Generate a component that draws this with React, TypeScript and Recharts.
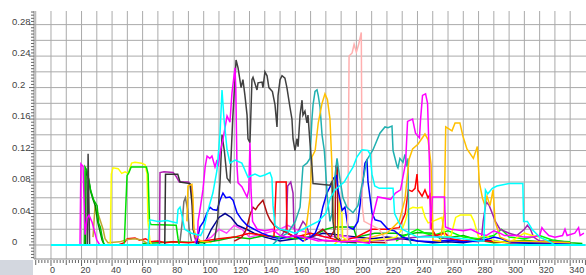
import { LineChart, Line, XAxis, YAxis, CartesianGrid } from "recharts";

type Pt = [number, number];

// tick labels
const xLabels = [0, 20, 40, 60, 80, 100, 120, 140, 160, 180, 200, 220, 240, 260, 280, 300, 320, 340];
const yLabels = [0, 0.04, 0.08, 0.12, 0.16, 0.2, 0.24, 0.28];

// series values, [x, y]
const magentaEarly: Pt[] = [[19, 0], [19.6, 0.103], [21, 0.1], [21.6, 0.06], [22.3, 0.013], [23.6, 0.034], [24.9, 0.038], [26.9, 0.029], [28.8, 0.015], [30, 0.006], [32, 0]];
const greenEarly: Pt[] = [[21.8, 0], [22.3, 0.099], [23.5, 0.095], [24.8, 0.082], [25.9, 0.07], [28, 0.057], [30.2, 0.05], [31.2, 0.028], [32.3, 0.023], [33.4, 0.011], [34.5, 0.002], [35, 0]];
const darkGreenEarly: Pt[] = [[22.6, 0], [23, 0.095], [24.5, 0.085], [26, 0.068], [27.5, 0.058], [29, 0.05], [30.5, 0.03], [32, 0.018], [33.5, 0.006], [35, 0]];
const grayEarly: Pt[] = [[23.8, 0], [24.3, 0.116], [25.3, 0]];
const oliveEarly: Pt[] = [[27.5, 0.01], [28.8, 0.048], [30.8, 0.04], [32.1, 0.032], [34.1, 0.02], [35.4, 0.008], [37.3, 0.003], [45, 0.004], [50, 0.007], [55, 0.008], [60, 0.006], [63, 0.002], [65, 0]];
const yellowBlock: Pt[] = [[38.8, 0], [39.5, 0.09], [40.6, 0.098], [44, 0.097], [46.3, 0.091], [48.5, 0.093], [50.6, 0.091], [52.8, 0.104], [55, 0.105], [59.4, 0.104], [61.6, 0.102], [62.9, 0.09], [63.5, 0.03], [64.8, 0.005], [66, 0]];
const limeBlock: Pt[] = [[48, 0.002], [49.2, 0.06], [49.8, 0.088], [51, 0.092], [52.5, 0.099], [62.5, 0.099], [63.6, 0.09], [64.5, 0.03], [65.5, 0.026], [82, 0.025], [83.2, 0.008], [84, 0]];
const redSeries: Pt[] = [[44, 0], [48, 0.003], [50, 0.008], [55, 0.009], [58, 0.006], [62, 0.008], [65, 0.004], [70, 0.005], [75, 0.003], [80, 0.004], [90, 0.003], [100, 0.005], [110, 0.008], [120, 0.01], [130, 0.015], [140, 0.012], [146, 0.01], [147.5, 0.08], [154, 0.08], [154.6, 0.015], [160, 0.01], [170, 0.015], [180, 0.01], [190, 0.005], [200, 0.01], [210, 0.02], [220, 0.02], [228, 0.022], [232, 0.04], [234, 0.07], [236.4, 0.068], [238.4, 0.072], [239.7, 0.09], [240.3, 0.07], [243, 0.062], [244.9, 0.07], [246.9, 0.06], [248.2, 0.064], [249.5, 0.02], [252, 0.012], [258, 0.015], [262, 0.008], [270, 0.005], [280, 0.006], [290, 0.004], [300, 0.003], [310, 0.004], [320, 0.003], [340, 0.002]];
const purpleMid: Pt[] = [[71, 0], [71.4, 0.092], [74, 0.093], [80, 0.092], [82, 0.087], [84, 0.08], [90, 0.08], [92, 0.075], [93, 0.03], [94, 0.01], [96, 0]];
const blackMid: Pt[] = [[74.5, 0], [75, 0.09], [83, 0.09], [84.5, 0.08], [91, 0.078], [92.5, 0.05], [93, 0.02], [95, 0.01], [97, 0]];
const grayBump: Pt[] = [[84.5, 0.005], [86, 0.03], [87, 0.055], [88, 0.06], [89.5, 0.045], [90.5, 0.02], [92, 0.005]];
const orangeMid: Pt[] = [[89, 0.03], [89.7, 0.075], [92.3, 0.077], [93, 0.06], [93.6, 0.02], [95, 0.01], [98, 0.005], [105, 0.003]];
const greenLow: Pt[] = [[60, 0.002], [70, 0.003], [80, 0.004], [100, 0.003], [110, 0.006], [120, 0.01], [130, 0.008], [140, 0.012], [150, 0.01], [160, 0.008], [170, 0.01], [175, 0.015], [180, 0.02], [186, 0.023], [198, 0.023], [200, 0.01], [212, 0.015], [226, 0.015], [230, 0.012], [240, 0.016], [250, 0.015], [255, 0.008], [262, 0.01], [270, 0.012], [280, 0.006], [290, 0.003], [300, 0.004], [310, 0.006], [320, 0.004], [330, 0.006], [340, 0.003], [348, 0.002]];
const limeLow: Pt[] = [[226, 0.005], [230, 0.01], [240, 0.02], [245, 0.015], [250, 0.012], [260, 0.018], [270, 0.01], [280, 0.008], [290, 0.012], [295, 0.02], [300, 0.01], [310, 0.008], [320, 0.012], [330, 0.005], [340, 0.004]];
const magentaLow: Pt[] = [[100, 0.005], [105, 0.01], [110, 0.02], [115, 0.015], [120, 0.025], [125, 0.02], [130, 0.01], [140, 0.015], [150, 0.02], [155, 0.025], [160, 0.02], [170, 0.015], [180, 0.01], [190, 0.012], [200, 0.008], [210, 0.005]];
const navyLow: Pt[] = [[100, 0], [105, 0.02], [110, 0.035], [114, 0.04], [118, 0.035], [122, 0.025], [128, 0.02], [133, 0.015], [140, 0.01], [150, 0.005], [160, 0.008], [170, 0.01], [178, 0.015], [184, 0.014], [190, 0.012], [200, 0.01], [210, 0.008], [220, 0.01], [230, 0.008], [240, 0.005], [250, 0.003], [260, 0.004], [270, 0.003], [280, 0.006], [290, 0.005], [300, 0.003], [320, 0.002], [340, 0.002]];
const violetSeries: Pt[] = [[150, 0.01], [154, 0.02], [155, 0.075], [157, 0.08], [158.5, 0.066], [159, 0.03], [160, 0.01], [165, 0.03], [167, 0.025], [170, 0.01], [180, 0.005], [200, 0.005], [220, 0.006], [230, 0.008], [240, 0.01], [250, 0.012], [260, 0.008], [270, 0.005], [280, 0.004], [282, 0.01], [283, 0.03], [285, 0.055], [287, 0.05], [289, 0.04], [291, 0.03], [294, 0.02], [300, 0.015], [305, 0.012], [310, 0.02], [312, 0.025], [314, 0.02], [316, 0.01], [320, 0.005], [330, 0.004], [340, 0.003]];
const darkRed: Pt[] = [[120, 0.005], [125, 0.01], [128, 0.02], [130.3, 0.038], [132.3, 0.048], [134, 0.045], [135.6, 0.05], [138.8, 0.057], [141.5, 0.04], [143.4, 0.032], [146, 0.025], [150, 0.02], [155, 0.015], [160, 0.01], [165, 0.012], [168, 0.008], [172, 0.012], [178, 0.02], [183, 0.01], [186, 0.02], [186.5, 0.1], [187.5, 0.1], [188, 0.01], [190, 0.005], [200, 0.004], [220, 0.003]];
const blueSeries: Pt[] = [[95, 0], [97.6, 0.023], [100, 0.03], [102.2, 0.041], [104.1, 0.048], [106, 0.045], [108.7, 0.044], [110.7, 0.057], [112.6, 0.066], [114.5, 0.06], [117.2, 0.061], [119.2, 0.057], [121.8, 0.041], [125, 0.032], [128.4, 0.025], [133, 0.02], [138, 0.015], [145, 0.01], [150, 0.008], [155, 0.01], [160, 0.012], [165, 0.005], [170, 0.01], [173, 0.015], [176, 0.03], [178, 0.048], [180.7, 0.066], [183, 0.075], [185, 0.085], [187, 0.088], [188, 0.07], [190.6, 0.044], [192.5, 0.048], [194.5, 0.023], [198, 0.02], [201, 0.03], [203.7, 0.07], [205.6, 0.104], [206.9, 0.108], [207.6, 0.08], [210.2, 0.041], [212.2, 0.032], [216, 0.03], [220.7, 0.02], [225, 0.018], [230, 0.01], [240, 0.005], [250, 0.004], [260, 0.006], [270, 0.004], [280, 0.005], [287, 0.008], [290, 0.01], [295, 0.008], [300, 0.004], [320, 0.003], [340, 0.002]];
const yellowRight: Pt[] = [[185, 0], [188, 0.005], [189, 0.06], [190.5, 0.04], [191, 0.01], [195, 0.005], [200, 0.004], [210, 0.006], [220, 0.008], [226, 0.01], [230, 0.02], [232, 0.03], [234, 0.045], [237, 0.048], [240, 0.047], [243, 0.048], [245, 0.035], [247, 0.028], [250, 0.03], [256, 0.035], [258, 0.01], [262, 0.012], [265, 0.035], [268, 0.038], [275, 0.038], [277, 0.03], [280, 0.01], [285, 0.012], [290, 0.005], [300, 0.003], [310, 0.015], [315, 0.012], [320, 0.01], [325, 0.005]];
const tealSeries: Pt[] = [[145, 0], [150, 0.01], [155, 0.015], [160, 0.03], [163.1, 0.048], [165, 0.1], [167.6, 0.104], [169.6, 0.11], [170.9, 0.16], [171.6, 0.178], [172.9, 0.195], [174.2, 0.197], [175, 0.19], [176.2, 0.175], [177.5, 0.14], [179, 0.12], [181, 0.06], [182.7, 0.03], [184, 0.04], [185, 0.07], [187.3, 0.11], [189.3, 0.083], [191.2, 0.06], [193.8, 0.048], [197.8, 0.041], [201, 0.05], [204.3, 0.083], [206.9, 0.108], [210.9, 0.121], [215.4, 0.142], [218.7, 0.15], [220.7, 0.149], [223.3, 0.151], [224, 0.12], [226.6, 0.1], [227.2, 0.098], [228.5, 0.11], [230.5, 0.105], [231.8, 0.115], [233.1, 0.1], [233.8, 0.11], [234.3, 0.01], [236, 0]];
const darkGray: Pt[] = [[107, 0.005], [109, 0.03], [110.7, 0.08], [112, 0.14], [113.5, 0.12], [115.3, 0.085], [117.2, 0.08], [119, 0.16], [121.2, 0.235], [122.5, 0.225], [124.5, 0.2], [125.7, 0.21], [127, 0.19], [128.4, 0.165], [129, 0.135], [130.3, 0.13], [131.6, 0.21], [132.3, 0.213], [134.9, 0.197], [135.6, 0.206], [138.2, 0.207], [138.8, 0.2], [140.1, 0.22], [141.5, 0.215], [142.7, 0.2], [145, 0.195], [146.7, 0.178], [148, 0.15], [148.7, 0.19], [150, 0.21], [151.3, 0.215], [153.2, 0.212], [154.5, 0.2], [156.5, 0.175], [157.8, 0.16], [158.5, 0.135], [159.8, 0.12], [161.1, 0.135], [161.8, 0.125], [163.1, 0.165], [164.4, 0.184], [165, 0.165], [166.3, 0.17], [167.6, 0.155], [168.3, 0.165], [169.6, 0.13], [170.9, 0.1], [171.6, 0.078], [182.7, 0.076], [184, 0.08], [184.7, 0.03], [186, 0.01], [190, 0.004], [200, 0.003]];
const magentaBig: Pt[] = [[94, 0.003], [96, 0.01], [96.3, 0.03], [98, 0.05], [99.5, 0.07], [101, 0.1], [102.2, 0.113], [104, 0.11], [105.4, 0.113], [107.4, 0.099], [108.7, 0.108], [109.4, 0.1], [111, 0.12], [112.6, 0.134], [115.3, 0.164], [117.2, 0.156], [118.5, 0.193], [120.5, 0.225], [121, 0.2], [121.8, 0.1], [122.5, 0.079], [125, 0.074], [128.4, 0.061], [129.5, 0.07], [130.3, 0.13], [131, 0.07], [132, 0.03], [135, 0.02], [140, 0.018], [145, 0.02], [150, 0.012], [155, 0.01], [160, 0.012], [170, 0.008], [175, 0.005], [180, 0.006], [190, 0.004], [200, 0.005], [205, 0.003], [208.6, 0.002], [210, 0.03], [213.9, 0.061], [222.4, 0.058], [225.6, 0.066], [228.9, 0.07], [232.2, 0.104], [233.5, 0.157], [236.8, 0.16], [238.7, 0.142], [241.3, 0.136], [242, 0.159], [243.3, 0.19], [245.3, 0.192], [246.6, 0.18], [247.9, 0.099], [248.5, 0.02], [249.8, 0.061], [257.7, 0.061], [258.3, 0.023], [262, 0.02], [270, 0.018], [275, 0.02], [280, 0.015], [285, 0.012], [290, 0.018], [294, 0.015], [297, 0.012], [305, 0.012], [310, 0.01], [315, 0.01], [320, 0.012], [321.5, 0.022], [323, 0.018], [326, 0.012], [330, 0.01], [335, 0.012], [336.6, 0.02], [338, 0.012], [343, 0.015], [345.5, 0.022], [346.5, 0.012], [349, 0.015]];
const orangeBig: Pt[] = [[166, 0.005], [169.6, 0.06], [170.9, 0.112], [173, 0.12], [175, 0.155], [177.5, 0.18], [179.4, 0.192], [181, 0.185], [182.7, 0.16], [184, 0.1], [184.7, 0.04], [186, 0.01], [190, 0.005], [200, 0.005], [210, 0.01], [220, 0.015], [228, 0.03], [231.8, 0.058], [234.5, 0.109], [236.8, 0.122], [240.3, 0.128], [244.9, 0.141], [246.9, 0.134], [248.9, 0.102], [250.2, 0.006], [255, 0.005], [257.5, 0.04], [258.5, 0.15], [262.6, 0.145], [264.6, 0.155], [267.8, 0.155], [269.8, 0.138], [272.4, 0.122], [276.6, 0.11], [279.2, 0.125], [280.5, 0.08], [282.5, 0.06], [284.2, 0.05], [285.5, 0.062], [287.5, 0.05], [289.5, 0.07], [290.8, 0.03], [294.1, 0.01], [300, 0.005], [320, 0.004], [340, 0.003]];
const pinkSeries: Pt[] = [[194, 0], [194.5, 0.05], [195.2, 0.24], [197.2, 0.244], [198.5, 0.255], [200, 0.245], [201.5, 0.255], [203.2, 0.27], [203.8, 0.05], [205, 0.03], [210, 0.025], [215, 0.02], [218, 0.01], [220, 0]];
const cyanSeries: Pt[] = [[63.5, 0], [64.8, 0.032], [70, 0.03], [76, 0.031], [82.5, 0.028], [83.2, 0.045], [84.5, 0.048], [86, 0.035], [87.5, 0.02], [92, 0.015], [98, 0.012], [100, 0.02], [102.8, 0.044], [106, 0.066], [108.7, 0.095], [110.7, 0.142], [112, 0.197], [113.3, 0.16], [115.3, 0.121], [117.2, 0.104], [120.5, 0.108], [125, 0.104], [129, 0.086], [131, 0.088], [133.6, 0.09], [136.9, 0.087], [140, 0.089], [143.4, 0.092], [144.7, 0.085], [145.4, 0.05], [146.7, 0.025], [150, 0.02], [155, 0.018], [160, 0.015], [165, 0.02], [175, 0.03], [180, 0.04], [183, 0.06], [186, 0.07], [189, 0.075], [192, 0.08], [195, 0.09], [197.8, 0.099], [200.4, 0.112], [203.7, 0.121], [207.6, 0.12], [209, 0.115], [210.2, 0.09], [212, 0.075], [215, 0.072], [224, 0.072], [225, 0.04], [230, 0.02], [235, 0.015], [240, 0.01], [250, 0.01], [260, 0.01], [270, 0.008], [280, 0.005], [283.5, 0.005], [284.5, 0.07], [286, 0.065], [289, 0.072], [292, 0.075], [300, 0.078], [309, 0.078], [309.5, 0.03], [312, 0.03], [315, 0.02], [320, 0.01], [326, 0.005], [330, 0]];
const cyanZero: Pt[] = [[0, 0], [350, 0]];

const series: { name: string; color: string; pts: Pt[]; w?: number }[] = [
    { name: "navyLow", color: "#000090", pts: navyLow },
    { name: "greenLow", color: "#00c000", pts: greenLow },
    { name: "limeLow", color: "#00ff00", pts: limeLow },
    { name: "magentaLow", color: "#ff40ff", pts: magentaLow },
    { name: "violet", color: "#a020b0", pts: violetSeries },
    { name: "darkRed", color: "#b01010", pts: darkRed },
    { name: "red", color: "#ff0000", pts: redSeries },
    { name: "olive", color: "#c0a830", pts: oliveEarly },
    { name: "yellowRight", color: "#ffff00", pts: yellowRight },
    { name: "yellow", color: "#ffff00", pts: yellowBlock },
    { name: "lime", color: "#00e000", pts: limeBlock },
    { name: "darkGreen", color: "#008000", pts: darkGreenEarly },
    { name: "green", color: "#00c000", pts: greenEarly },
    { name: "grayEarly", color: "#404040", pts: grayEarly },
    { name: "magentaEarly", color: "#ff00ff", pts: magentaEarly },
    { name: "purple", color: "#b020b0", pts: purpleMid },
    { name: "blackMid", color: "#303030", pts: blackMid },
    { name: "grayBump", color: "#707070", pts: grayBump },
    { name: "orangeMid", color: "#ffc000", pts: orangeMid },
    { name: "blue", color: "#0000ff", pts: blueSeries },
    { name: "pink", color: "#ffb0b0", pts: pinkSeries },
    { name: "teal", color: "#20b0b0", pts: tealSeries },
    { name: "orange", color: "#ffc000", pts: orangeBig },
    { name: "darkGray", color: "#404040", pts: darkGray },
    { name: "magenta", color: "#ff00ff", pts: magentaBig },
    { name: "cyan", color: "#00ffff", pts: cyanSeries },
    { name: "cyanZero", color: "#00ffff", pts: cyanZero, w: 2 },
];

const xTicks: number[] = [];
for (let v = -10; v <= 350; v += 2) xTicks.push(v);
const yTicks: number[] = [];
for (let i = -4; i <= 74; i++) yTicks.push(Number((i * 0.004).toFixed(3)));
const hGrid: number[] = [];
for (let i = 0; i <= 14; i++) hGrid.push(Number((i * 0.02).toFixed(2)));
const vGrid: number[] = [];
for (let v = -10; v <= 340; v += 10) vGrid.push(v);

function XTick(props: any) {
    const { x, y, payload } = props;
    const v = payload.value;
    const len = v % 20 === 0 ? 6 : v % 10 === 0 ? 5 : 3;
    return (
        <g>
            <line x1={x} x2={x} y1={y + 1} y2={y + 1 + len} stroke="#666" />
            {xLabels.includes(v) && (
                <text x={x - 1} y={y + 14} fontSize={9} fill="#444" textAnchor="start" fontFamily="Liberation Sans, Arial">
                    {v}
                </text>
            )}
        </g>
    );
}

function YTick(props: any) {
    const { x, y, payload } = props;
    const v = payload.value;
    const isLabel = yLabels.some((l) => Math.abs(l - v) < 1e-6);
    const len = isLabel ? 5 : 3;
    return (
        <g>
            <line x1={x - len} x2={x} y1={y} y2={y} stroke="#666" />
            {isLabel && (
                <text x={x - 22} y={y} fontSize={9.5} fill="#444" textAnchor="start" fontFamily="Liberation Sans, Arial">
                    {String(Number(v.toFixed(2)))}
                </text>
            )}
        </g>
    );
}

export default function App() {
    return (
        <div style={{ position: "absolute", left: 0, top: 0, width: 586, height: 275, background: "#fff" }}>
            <LineChart width={586} height={275} margin={{ top: 11, right: 0, left: 0, bottom: 0 }}>
                <CartesianGrid stroke="#aaaaaa" horizontalValues={hGrid} verticalValues={vGrid} />
                <XAxis
                    type="number"
                    dataKey="x"
                    domain={[-11.13, 350.36]}
                    allowDataOverflow
                    ticks={xTicks}
                    interval={0}
                    tick={<XTick />}
                    tickLine={false}
                    tickSize={0}
                    tickMargin={0}
                    height={16}
                    axisLine={{ stroke: "#888" }}
                />
                <YAxis
                    type="number"
                    dataKey="y"
                    domain={[-0.0178, 0.2973]}
                    allowDataOverflow
                    ticks={yTicks}
                    interval={0}
                    tick={<YTick />}
                    tickLine={false}
                    tickSize={0}
                    tickMargin={0}
                    width={34}
                    axisLine={{ stroke: "#888" }}
                />
                {series.map((s) => (
                    <Line
                        key={s.name}
                        data={s.pts.map(([x, y]) => ({ x, y }))}
                        dataKey="y"
                        type="linear"
                        stroke={s.color}
                        strokeWidth={s.w ?? 1.5}
                        dot={false}
                        activeDot={false}
                        isAnimationActive={false}
                    />
                ))}
            </LineChart>
            <div style={{ position: "absolute", left: 0, top: 260, width: 33, height: 15, background: "#d3d7df" }} />
        </div>
    );
}
